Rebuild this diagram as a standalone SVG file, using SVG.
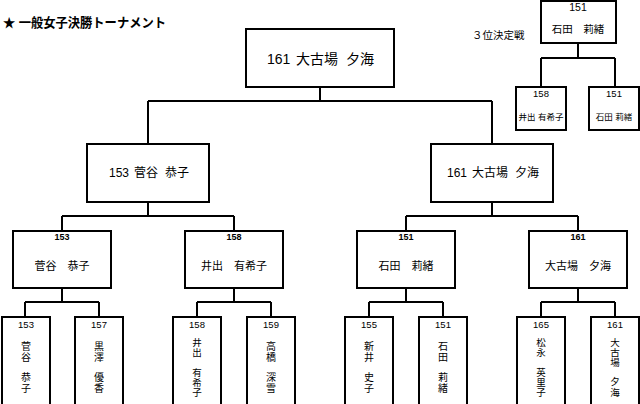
<svg xmlns="http://www.w3.org/2000/svg" width="640" height="404" viewBox="0 0 640 404">
<style>
text{font-family:"Liberation Sans","Noto Sans CJK JP",sans-serif;fill:#000}
.box{fill:#fff;stroke:#000;stroke-width:2}
.ln{fill:none;stroke:#000;stroke-width:2}
.big{font-size:14px}
.mid{font-size:12px}
.qn{font-size:9px;font-weight:bold;text-anchor:middle}
.qm{font-size:11px;text-anchor:middle}
.bn{font-size:9.5px;text-anchor:middle}
.bv{font-size:10px;text-anchor:middle}
.bv5{font-size:9.5px;text-anchor:middle}
.tn{font-size:10.5px;text-anchor:middle}
.ts{font-size:8.5px;text-anchor:middle}
</style>
<rect width="640" height="404" fill="#fff"/>
<text x="3" y="27" font-size="13" font-weight="bold" textLength="163" lengthAdjust="spacingAndGlyphs">★ 一般女子決勝トーナメント</text>
<text x="472" y="39" font-size="10.5">３位決定戦</text>

<g id="connectors" class="ln">
<path d="M320 87V101M148 101H492M148 101V144M492 101V144"/>
<path d="M148 202V216M62 216H234M62 216V231M234 216V231"/>
<path d="M492 202V216M406 216H578M406 216V231M578 216V231"/>
<path d="M62 288V302M25 302H99M25 302V317M99 302V317"/>
<path d="M234 288V302M197 302H271M197 302V317M271 302V317"/>
<path d="M406 288V302M369 302H443M369 302V317M443 302V317"/>
<path d="M578 288V302M541 302H615M541 302V317M615 302V317"/>
<path d="M578 43V58M541 58H615M541 58V87M615 58V87"/>
</g>

<g id="final">
<rect class="box" x="246" y="29" width="148" height="58"/>
<text class="big" y="64"><tspan x="267">161</tspan><tspan x="296">大古場</tspan><tspan x="346">夕海</tspan></text>
</g>

<g id="semi-left">
<rect class="box" x="87" y="144" width="122" height="58"/>
<text class="mid" y="177"><tspan x="109">153</tspan><tspan x="134">菅谷</tspan><tspan x="165">恭子</tspan></text>
</g>
<g id="semi-right">
<rect class="box" x="431" y="144" width="122" height="58"/>
<text class="mid" y="177"><tspan x="447">161</tspan><tspan x="472">大古場</tspan><tspan x="515">夕海</tspan></text>
</g>

<g id="qf1">
<rect class="box" x="13" y="231" width="98" height="57"/>
<text class="qn" x="62" y="240">153</text>
<text class="qm" x="62" y="270">菅谷　恭子</text>
</g>
<g id="qf2">
<rect class="box" x="185" y="231" width="98" height="57"/>
<text class="qn" x="234" y="240">158</text>
<text class="qm" x="234" y="270">井出　有希子</text>
</g>
<g id="qf3">
<rect class="box" x="357" y="231" width="98" height="57"/>
<text class="qn" x="406" y="240">151</text>
<text class="qm" x="406" y="270">石田　莉緒</text>
</g>
<g id="qf4">
<rect class="box" x="529" y="231" width="98" height="57"/>
<text class="qn" x="578" y="240">161</text>
<text class="qm" x="578" y="270">大古場　夕海</text>
</g>

<g id="r1-153">
<rect class="box" x="2" y="317" width="48" height="95"/>
<text class="bn" x="26" y="327.5">153</text>
<text class="bv" x="26"><tspan x="26" y="349.5">菅</tspan><tspan x="26" y="361">谷</tspan><tspan x="26" y="381">恭</tspan><tspan x="26" y="392">子</tspan></text>
</g>
<g id="r1-157">
<rect class="box" x="75" y="317" width="48" height="95"/>
<text class="bn" x="99" y="327.5">157</text>
<text class="bv" x="99"><tspan x="99" y="349.5">黒</tspan><tspan x="99" y="361">澤</tspan><tspan x="99" y="381">優</tspan><tspan x="99" y="392">香</tspan></text>
</g>
<g id="r1-158">
<rect class="box" x="173" y="317" width="48" height="95"/>
<text class="bn" x="197" y="327.5">158</text>
<text class="bv5" x="197"><tspan x="197" y="345.5">井</tspan><tspan x="197" y="355.5">出</tspan><tspan x="197" y="375.5">有</tspan><tspan x="197" y="385.5">希</tspan><tspan x="197" y="395.5">子</tspan></text>
</g>
<g id="r1-159">
<rect class="box" x="247" y="317" width="48" height="95"/>
<text class="bn" x="271" y="327.5">159</text>
<text class="bv" x="271"><tspan x="271" y="349.5">高</tspan><tspan x="271" y="361">橋</tspan><tspan x="271" y="381">深</tspan><tspan x="271" y="392">雪</tspan></text>
</g>
<g id="r1-155">
<rect class="box" x="345" y="317" width="48" height="95"/>
<text class="bn" x="369" y="327.5">155</text>
<text class="bv" x="369"><tspan x="369" y="349.5">新</tspan><tspan x="369" y="361">井</tspan><tspan x="369" y="381">史</tspan><tspan x="369" y="392">子</tspan></text>
</g>
<g id="r1-151">
<rect class="box" x="419" y="317" width="48" height="95"/>
<text class="bn" x="443" y="327.5">151</text>
<text class="bv" x="443"><tspan x="443" y="349.5">石</tspan><tspan x="443" y="361">田</tspan><tspan x="443" y="381">莉</tspan><tspan x="443" y="392">緒</tspan></text>
</g>
<g id="r1-165">
<rect class="box" x="517" y="317" width="48" height="95"/>
<text class="bn" x="541" y="327.5">165</text>
<text class="bv5" x="541"><tspan x="541" y="345.5">松</tspan><tspan x="541" y="355.5">永</tspan><tspan x="541" y="375.5">英</tspan><tspan x="541" y="385.5">里</tspan><tspan x="541" y="395.5">子</tspan></text>
</g>
<g id="r1-161">
<rect class="box" x="591" y="317" width="48" height="95"/>
<text class="bn" x="615" y="327.5">161</text>
<text class="bv5" x="615"><tspan x="615" y="345.5">大</tspan><tspan x="615" y="355.5">古</tspan><tspan x="615" y="365.5">場</tspan><tspan x="615" y="384.5">夕</tspan><tspan x="615" y="395.5">海</tspan></text>
</g>

<g id="third-winner">
<rect class="box" x="541" y="1" width="75" height="42"/>
<text class="tn" x="578" y="11">151</text>
<text class="tn" x="578" y="33">石田　莉緒</text>
</g>
<g id="third-158">
<rect class="box" x="516" y="87" width="50" height="43"/>
<text class="bn" x="541" y="96.5">158</text>
<text class="ts" x="541" y="120">井出 有希子</text>
</g>
<g id="third-151">
<rect class="box" x="589" y="87" width="50" height="43"/>
<text class="bn" x="614" y="96.5">151</text>
<text class="ts" x="614" y="120">石田 莉緒</text>
</g>
</svg>
